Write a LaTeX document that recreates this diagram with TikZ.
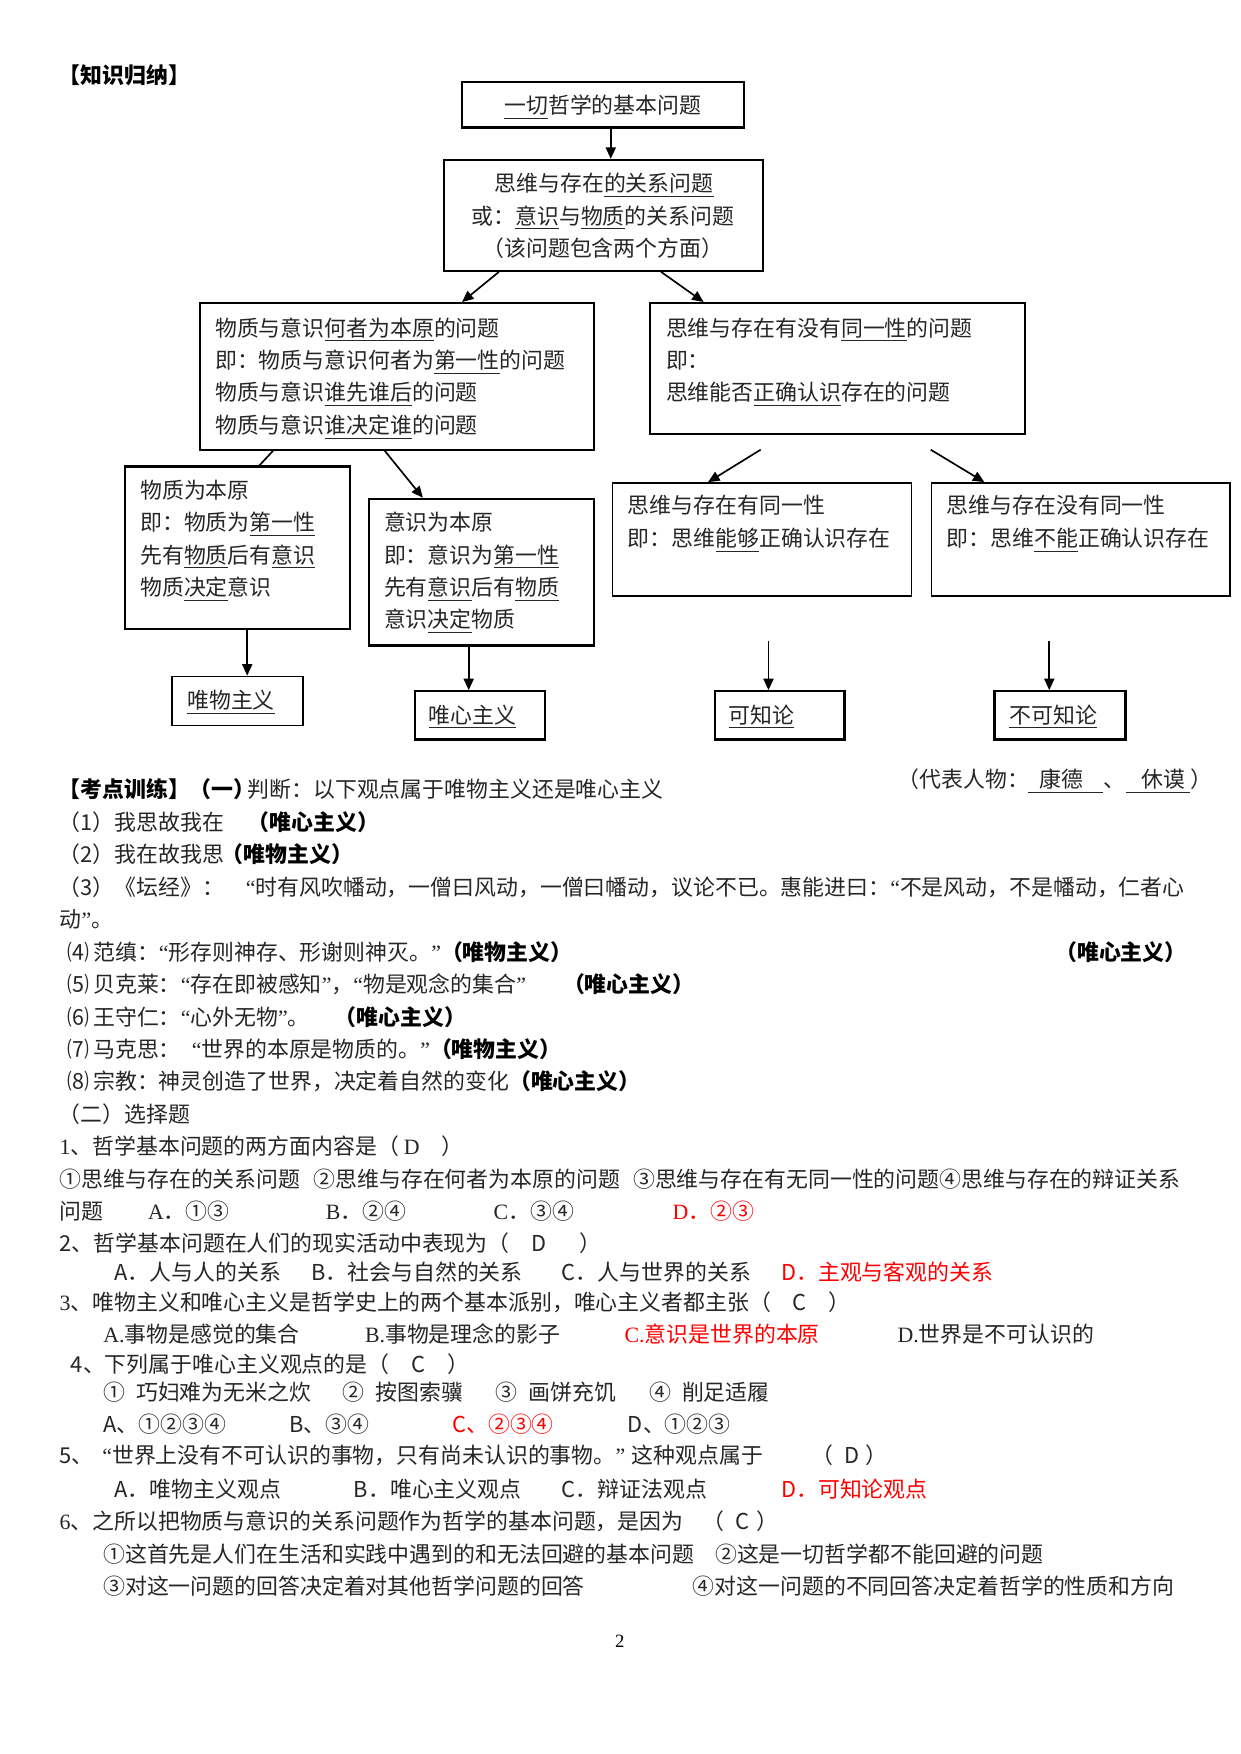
\documentclass[tikz,border=0pt]{standalone}
\usepackage{fontspec}
\setmainfont{Noto Sans CJK SC}
\newfontfamily\tnr{Liberation Serif}
\usetikzlibrary{arrows.meta,calc}
\newlength\pxu
\setlength\pxu{0.5366bp}
\newcommand\fsz{\fontsize{10.5bp}{12bp}\selectfont}
\newcommand\uu[1]{\underline{#1}}
\newcommand\qo{{\tnr “}}
\newcommand\qc{{\tnr ”}}
\newcommand\pn[1]{\makebox[23\pxu][l]{#1}}
\newcommand\bdt[1]{{\bfseries\color{black}#1}}
\tikzset{
 box/.style={draw, line width=1.1bp, inner sep=0, anchor=north west},
 thinbox/.style={draw, line width=0.75bp, inner sep=0, anchor=north west},
 arr/.style={line width=0.8bp, -{Triangle[length=5.5bp,width=4.8bp]}},
 ln/.style={line width=0.8bp},
 tx/.style={anchor=west, inner sep=0, font=\fsz, text=black!85, text height=9.2bp, text depth=1.3bp},
 tc/.style={tx, anchor=center},
 bd/.style={tx, font=\fsz\bfseries, text=black},
 rd/.style={tx, text=red},
}
\begin{document}
\begin{tikzpicture}[x=0.5366bp,y=-0.5366bp]
\fill[white] (0,0) rectangle (1109,1568);
\useasboundingbox (0,0) rectangle (1109,1568);

% ---------- boxes ----------
\node[box, minimum width=252\pxu, minimum height=41\pxu] (b1) at (412,72) {};
\node[box, minimum width=285\pxu, minimum height=99\pxu] (b2) at (396,142) {};
\node[box, minimum width=352\pxu, minimum height=131\pxu] (b3) at (178,270) {};
\node[box, minimum width=335\pxu, minimum height=117\pxu] (b4) at (580,270) {};
\node[box, minimum width=201\pxu, minimum height=145\pxu] (b5) at (111,416) {};
\node[box, minimum width=201\pxu, minimum height=131\pxu] (b6) at (329,445) {};
\node[thinbox, minimum width=117\pxu, minimum height=44\pxu] (b7) at (153,604) {};
\node[box, minimum width=116\pxu, minimum height=43\pxu] (b8) at (370,617) {};
\node[thinbox, minimum width=267\pxu, minimum height=101\pxu] (b9) at (547,431) {};
\node[thinbox, minimum width=267\pxu, minimum height=101\pxu] (b10) at (832,431) {};
\node[box, minimum width=116\pxu, minimum height=43\pxu] (b11) at (638,617) {};
\node[box, minimum width=117\pxu, minimum height=43\pxu] (b12) at (888,617) {};

% ---------- free connector ends ----------
\coordinate (c1) at (680,402);
\coordinate (c2) at (832,402);
\coordinate (c3) at (687,573);
\coordinate (c4) at (938,573);

% ---------- connectors ----------
\draw[arr] ($(b1.south west)+(134,0)$) -- ($(b2.north west)+(150,0)$);
\draw[arr] ($(b2.south west)+(50,0)$) -- ($(b3.north west)+(235,0)$);
\draw[arr] ($(b2.south west)+(195,0)$) -- ($(b4.north west)+(49,0)$);
\draw[ln]  ($(b3.south west)+(66,0)$) -- ($(b5.north west)+(121,0)$);
\draw[arr] ($(b3.south west)+(166,0)$) -- ($(b6.north west)+(49,0)$);
\draw[arr] ($(b5.south west)+(110,0)$) -- ($(b7.north west)+(68,0)$);
\draw[arr] ($(b6.south west)+(90,0)$) -- ($(b8.north west)+(49,0)$);
\draw[arr] (c1) -- ($(b9.north west)+(86,0)$);
\draw[arr] (c2) -- ($(b10.north west)+(48,0)$);
\draw[arr] (c3) -- ($(b11.north west)+(49,0)$);
\draw[arr] (c4) -- ($(b12.north west)+(50,0)$);

% ---------- diagram texts ----------
\node[bd] (t0) at (52,67) {【知识归纳】};
\node[tc] (t1) at (539,94) {\uu{一切}哲学的基本问题};
\node[tc] (t2a) at (540,164) {思维与存在\uu{的关系问题}};
\node[tc] (t2b) at (539,193) {或：\uu{意识}与\uu{物质}的关系问题};
\node[tc] (t2c) at (539,222) {（该问题包含两个方面）};
\node[tx] (t3a) at (192,293) {物质与意识\uu{何者为本原}的问题};
\node[tx] (t3b) at (192,322) {即：物质与意识何者为\uu{第一性}的问题};
\node[tx] (t3c) at (192,351) {物质与意识\uu{谁先谁后}的问题};
\node[tx] (t3d) at (192,380) {物质与意识\uu{谁决定谁}的问题};
\node[tx] (t4a) at (595,293) {思维与存在有没有\uu{同一性}的问题};
\node[tx] (t4b) at (595,322) {即：};
\node[tx] (t4c) at (595,351) {思维能否\uu{正确认识}存在的问题};
\node[tx] (t5a) at (125,438) {物质为本原};
\node[tx] (t5b) at (125,467) {即：物质为\uu{第一性}};
\node[tx] (t5c) at (125,496) {先有\uu{物质}后有\uu{意识}};
\node[tx] (t5d) at (125,525) {物质\uu{决定}意识};
\node[tx] (t6a) at (343,467) {意识为本原};
\node[tx] (t6b) at (343,496) {即：意识为\uu{第一性}};
\node[tx] (t6c) at (343,525) {先有\uu{意识}后有\uu{物质}};
\node[tx] (t6d) at (343,554) {意识\uu{决定}物质};
\node[tx] (t7) at (167,626) {\uu{唯物主义}};
\node[tx] (t8) at (383,639) {\uu{唯心主义}};
\node[tx] (t9a) at (561,452) {思维与存在有同一性};
\node[tx] (t9b) at (561,481) {即：思维\uu{能够}正确认识存在};
\node[tx] (t10a) at (846,452) {思维与存在没有同一性};
\node[tx] (t10b) at (846,481) {即：思维\uu{不能}正确认识存在};
\node[tx] (t11) at (651,639) {\uu{可知论}};
\node[tx] (t12) at (902,639) {\uu{不可知论}};
\node[tx] (rp1) at (802,697) {（代表人物：};
\node[tx] (rp2) at (919,697) {\uu{\makebox[36bp][l]{\hspace{5.4bp}康德}}};
\node[tx] (rp3) at (986,697) {、};
\node[tx] (rp4) at (1006,697) {\uu{\makebox[31bp][l]{\hspace{7.5bp}休谟}}};
\node[tx] (rp5) at (1064,697) {）};

% ---------- exercises (一) ----------
\node[bd] (e0) at (52,706) {【考点训练】（一）};
\node[tx] (e0b) at (221,706) {判断：以下观点属于唯物主义还是唯心主义};
\node[tx] (e1) at (52,735) {（1）我思故我在};
\node[bd] (e1b) at (221,735) {（唯心主义）};
\node[tx] (e2) at (52,764) {（2）我在故我思};
\node[bd] (e2b) at (198,764) {（唯物主义）};
\node[tx] (e3) at (52,793) {（3）《坛经》：\hspace{1em}\qo 时有风吹幡动，一僧曰风动，一僧曰幡动，议论不已。惠能进曰：\qo 不是风动，不是幡动，仁者心};
\node[tx] (e3b) at (53,822) {动\qc 。};
\node[tx] (e4) at (60,851) {\pn{⑷}范缜：\qo 形存则神存、形谢则神灭。\qc\bdt{（唯物主义）}};
\node[bd] (e4c) at (943,851) {（唯心主义）};
\node[tx] (e5) at (60,880) {\pn{⑸}贝克莱：\qo 存在即被感知\qc ，\qo 物是观念的集合\qc};
\node[bd] (e5b) at (503,880) {（唯心主义）};
\node[tx] (e6) at (60,909) {\pn{⑹}王守仁：\qo 心外无物\qc 。};
\node[bd] (e6b) at (299,909) {（唯心主义）};
\node[tx] (e7) at (60,938) {\pn{⑺}马克思：\hspace{0.5em}\qo 世界的本原是物质的。\qc\bdt{（唯物主义）}};
\node[tx] (e8) at (60,967) {\pn{⑻}宗教：神灵创造了世界，决定着自然的变化\bdt{（唯心主义）}};

% ---------- exercises (二) ----------
\node[tx] (s0) at (52,996) {（二）选择题};
\node[tx] (q1) at (53,1025) {{\tnr 1}、哲学基本问题的两方面内容是（ {\tnr D}\hspace{1em}）};
\node[tx] (q1s) at (53,1054) {①思维与存在的关系问题\hspace{0.6em}②思维与存在何者为本原的问题\hspace{0.6em}③思维与存在有无同一性的问题④思维与存在的辩证关系};
\node[tx] (q1w) at (53,1083) {问题};
\node[tx] (q1a) at (132,1083) {{\tnr A}．①③};
\node[tx] (q1b) at (291,1083) {{\tnr B}．②④};
\node[tx] (q1c) at (441,1083) {{\tnr C}．③④};
\node[rd] (q1d) at (601,1083) {{\tnr D}．②③};

\node[tx] (q2) at (53,1111) {2、哲学基本问题在人们的现实活动中表现为（\hspace{1em}D\hspace{1.5em}）};
\node[tx] (q2a) at (102,1137) {A．人与人的关系};
\node[tx] (q2b) at (278,1137) {B．社会与自然的关系};
\node[tx] (q2c) at (502,1137) {C．人与世界的关系};
\node[rd] (q2d) at (698,1137) {D．主观与客观的关系};

\node[tx] (q3) at (53,1164) {{\tnr 3}、唯物主义和唯心主义是哲学史上的两个基本派别，唯心主义者都主张（\hspace{1em}C\hspace{1em}）};
\node[tx] (q3a) at (92,1193) {{\tnr A.}事物是感觉的集合};
\node[tx] (q3b) at (326,1193) {{\tnr B.}事物是理念的影子};
\node[rd] (q3c) at (558,1193) {{\tnr C.}意识是世界的本原};
\node[tx] (q3d) at (802,1193) {{\tnr D.}世界是不可认识的};

\node[tx] (q4) at (63,1220) {4、下列属于唯心主义观点的是（\hspace{1em}C\hspace{1em}）};
\node[tx] (q4s1) at (92,1245) {①\hspace{0.5em}巧妇难为无米之炊};
\node[tx] (q4s2) at (306,1245) {②\hspace{0.5em}按图索骥};
\node[tx] (q4s3) at (443,1245) {③\hspace{0.5em}画饼充饥};
\node[tx] (q4s4) at (580,1245) {④\hspace{0.5em}削足适履};
\node[tx] (q4a) at (92,1273) {A、①②③④};
\node[tx] (q4b) at (258,1273) {B、③④};
\node[rd] (q4c) at (404,1273) {C、②③④};
\node[tx] (q4d) at (561,1273) {D、①②③};

\node[tx] (q5) at (53,1301) {5、\hspace{0.4em}\qo 世界上没有不可认识的事物，只有尚未认识的事物。\qc\hspace{0.3em}这种观点属于};
\node[tx] (q5p) at (725,1301) {（\hspace{0.5em}D\hspace{0.3em}）};
\node[tx] (q5a) at (102,1331) {A．唯物主义观点};
\node[tx] (q5b) at (316,1331) {B．唯心主义观点};
\node[tx] (q5c) at (502,1331) {C．辩证法观点};
\node[rd] (q5d) at (698,1331) {D．可知论观点};

\node[tx] (q6) at (53,1360) {{\tnr 6}、之所以把物质与意识的关系问题作为哲学的基本问题，是因为};
\node[tx] (q6p) at (628,1360) {（\hspace{0.5em}C\hspace{0.3em}）};
\node[tx] (q6s1) at (92,1389) {①这首先是人们在生活和实践中遇到的和无法回避的基本问题};
\node[tx] (q6s2) at (639,1389) {②这是一切哲学都不能回避的问题};
\node[tx] (q6s3) at (92,1418) {③对这一问题的回答决定着对其他哲学问题的回答};
\node[tx] (q6s4) at (619,1418) {④对这一问题的不同回答决定着哲学的性质和方向};

\node[anchor=center, inner sep=0, font=\fontsize{9bp}{10bp}\selectfont\tnr] (pg) at (554,1467) {2};
\end{tikzpicture}
\end{document}
